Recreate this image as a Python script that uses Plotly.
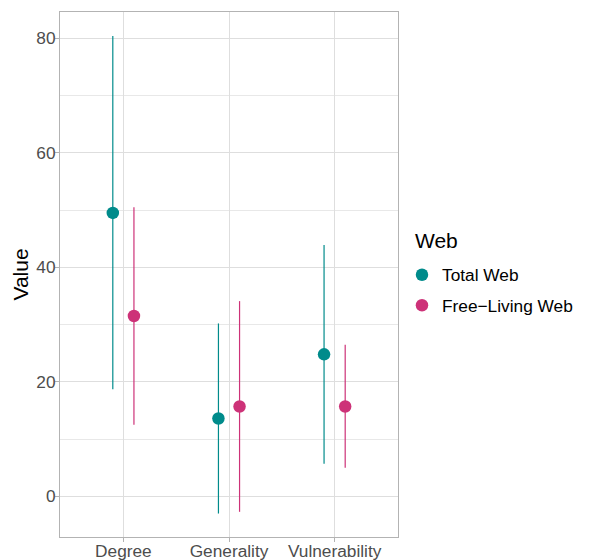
import plotly.graph_objects as go

categories = ["Degree", "Generality", "Vulnerability"]
series_names = ["Total Web", "Free\u2212Living Web"]
series_colors = ["#008B8B", "#CD3278"]
legend_title = "Web"

total_mean = [49.5, 13.6, 24.8]
total_low = [18.7, -3.0, 5.7]
total_high = [80.4, 30.2, 43.9]

free_mean = [31.5, 15.7, 15.7]
free_low = [12.5, -2.7, 5.0]
free_high = [50.5, 34.1, 26.5]

y_ticks = [0, 20, 40, 60, 80]
y_minor = [-10, 10, 30, 50, 70]

dodge = 0.1
series = [
    (total_mean, total_low, total_high, -dodge),
    (free_mean, free_low, free_high, dodge),
]

fig = go.Figure()
for i, (mean, low, high, off) in enumerate(series):
    xs = [k + 1 + off for k in range(len(categories))]
    fig.add_trace(go.Scatter(
        x=xs, y=mean, mode="markers", name=series_names[i],
        legendgroup=series_names[i],
        marker=dict(color=series_colors[i], size=12.5, line=dict(width=0)),
        error_y=dict(type="data", symmetric=False,
                     array=[h - m for h, m in zip(high, mean)],
                     arrayminus=[m - l for m, l in zip(mean, low)],
                     width=0, thickness=1.2, color=series_colors[i]),
    ))

grid = "#DEDEDE"
border = "#B3B3B3"
fig.update_layout(
    width=581, height=552,
    margin=dict(l=52, r=191, t=4, b=23, autoexpand=False),
    paper_bgcolor="white", plot_bgcolor="white",
    font=dict(family="Liberation Sans, Arial, sans-serif", size=17.3, color="#4D4D4D"),
    showlegend=True,
    legend=dict(
        x=1.0118, xanchor="left", y=0.4705, yanchor="middle",
        font=dict(size=17.3, color="black"), tracegroupgap=5,
        bgcolor="rgba(0,0,0,0)",
    ),
    annotations=[dict(
        text=legend_title, xref="paper", yref="paper", x=1.0444, y=0.5657,
        xanchor="left", yanchor="middle", showarrow=False,
        font=dict(size=21, color="black"),
    )],
    xaxis=dict(
        range=[0.4, 3.6], tickvals=[1, 2, 3], ticktext=categories,
        showgrid=True, gridcolor=grid, gridwidth=1, automargin=False,
        zeroline=False, showline=True, linecolor=border, linewidth=1, mirror=True,
        ticks="outside", ticklen=4, tickcolor=border, tickwidth=1,
        ticklabelstandoff=-6,
        tickfont=dict(size=17.3, color="#4D4D4D"),
    ),
    yaxis=dict(
        range=[-7.1, 84.6], tickvals=y_ticks, automargin=False,
        title=dict(text="Value", font=dict(size=21, color="black"), standoff=1),
        showgrid=True, gridcolor=grid, gridwidth=1,
        minor=dict(tickvals=y_minor, showgrid=True, gridcolor="#E8E8E8", gridwidth=0.6, ticks=""),
        zeroline=False, showline=True, linecolor=border, linewidth=1, mirror=True,
        ticks="outside", ticklen=4, tickcolor=border, tickwidth=1,
        ticklabelstandoff=-4,
        tickfont=dict(size=17.3, color="#4D4D4D"),
    ),
)

fig.write_html("out.html")
